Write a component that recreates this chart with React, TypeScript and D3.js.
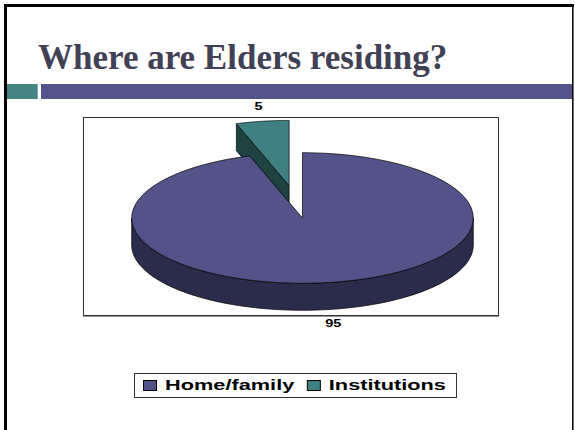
import React from 'react';
import * as d3 from 'd3';

const categories = ['Home/family', 'Institutions'];
const values = [95, 5];
const topColors = ['#53538a', '#3f8080'];
const sideColors = ['#2b2b4b', '#1f4242'];
const explodeFactors = [0, 0.5];
const titleText = 'Where are Elders residing?';

const W = 575;
const H = 430;
const cx = 302.5;
const cy = 218;
const rx = 170.8;
const ry = 65.3;
const depth = 27;
const textScale = 1.45;
const labelFont = '"Liberation Sans", Arial, sans-serif';

function measure(text: string, font: string): number {
  const c = document.createElement('canvas');
  const ctx = c.getContext('2d');
  if (!ctx) return text.length * 8;
  ctx.font = font;
  return ctx.measureText(text).width;
}

export default function App() {
  const arcs = d3.pie<number>().sort(null).startAngle(0).endAngle(2 * Math.PI)(values);
  const line = d3.line<[number, number]>();

  const pt = (a: number, ox: number, oy: number, k = 1, dz = 0): [number, number] => [
    cx + ox + rx * k * Math.sin(a),
    cy + oy - ry * k * Math.cos(a) + dz,
  ];

  const slices = arcs.map((a, i) => {
    const mid = (a.startAngle + a.endAngle) / 2;
    const k = explodeFactors[i];
    const ox = k * rx * Math.sin(mid);
    const oy = -k * ry * Math.cos(mid);
    return { a, i, mid, ox, oy };
  });
  const order = [...slices].sort((p, q) => Math.cos(q.mid) - Math.cos(p.mid));

  const arcPts = (s: number, e: number, ox: number, oy: number, dz = 0) => {
    const n = 80;
    return d3.range(n + 1).map((j) => pt(s + ((e - s) * j) / n, ox, oy, 1, dz));
  };

  const strokeProps = { stroke: '#000', strokeWidth: 0.7, strokeLinejoin: 'round' as const };

  const pieEls: React.ReactNode[] = [];
  order.forEach(({ a, i, ox, oy }) => {
    const a1 = a.startAngle;
    const a2 = a.endAngle;
    const c0: [number, number] = [cx + ox, cy + oy];
    const c1: [number, number] = [cx + ox, cy + oy + depth];
    // radial faces
    if (Math.sin(a1) < -1e-6) {
      const o = pt(a1, ox, oy);
      const ob = pt(a1, ox, oy, 1, depth);
      pieEls.push(<path key={`rs${i}`} d={line([c0, o, ob, c1])! + 'Z'} fill={sideColors[i]} {...strokeProps} />);
    }
    if (Math.sin(a2) > 1e-6) {
      const o = pt(a2, ox, oy);
      const ob = pt(a2, ox, oy, 1, depth);
      pieEls.push(<path key={`re${i}`} d={line([c0, o, ob, c1])! + 'Z'} fill={sideColors[i]} {...strokeProps} />);
    }
    // outer wall (front half only)
    const s = Math.max(a1, Math.PI / 2);
    const e = Math.min(a2, (3 * Math.PI) / 2);
    if (s < e) {
      const topP = arcPts(s, e, ox, oy);
      const botP = arcPts(s, e, ox, oy, depth).reverse();
      pieEls.push(<path key={`w${i}`} d={line([...topP, ...botP])! + 'Z'} fill={sideColors[i]} {...strokeProps} />);
    }
    // top face
    const tp = [c0, ...arcPts(a1, a2, ox, oy)];
    pieEls.push(<path key={`t${i}`} d={line(tp)! + 'Z'} fill={topColors[i]} {...strokeProps} />);
  });

  const labels = slices.map(({ a, i, mid, ox, oy }) => {
    const back = Math.cos(mid) > 0;
    const p = pt(mid, ox, oy, 1.15, back ? 0 : depth);
    const y = p[1] + (back ? -4.5 : 4.5);
    return (
      <text
        key={`l${i}`}
        transform={`translate(${p[0]},${y}) scale(${textScale},1)`}
        textAnchor="middle"
        dominantBaseline="central"
        fontFamily={labelFont}
        fontWeight="bold"
        fontSize={10}
        fill="#000"
      >
        {String(a.data)}
      </text>
    );
  });

  // legend layout
  const legFontSize = 15;
  const legFont = `bold ${legFontSize}px "Liberation Sans", Arial, sans-serif`;
  const legX = 134;
  const legY = 373;
  const legH = 24;
  const padL = 9;
  const markW = 13;
  const markH = 10;
  const markToText = 22;
  const itemGap = 12.5;
  let cursor = legX + padL;
  const legItems = categories.map((c, i) => {
    const tw = measure(c, legFont) * textScale;
    const x = cursor;
    cursor += markToText + tw + itemGap;
    return { c, i, x, tw };
  });
  const legW = cursor - itemGap + 10 - legX;

  return (
    <svg
      width={W}
      height={H}
      style={{ position: 'fixed', left: 0, top: 0, background: '#fff' }}
      xmlns="http://www.w3.org/2000/svg"
    >
      <rect x={0} y={0} width={W} height={H} fill="#fff" />
      {/* slide frame */}
      <rect x={4} y={4} width={570} height={3} fill="#000" />
      <rect x={4} y={4} width={3} height={H} fill="#000" />
      <rect x={572} y={4} width={1.6} height={H} fill="#111" />

      {/* title */}
      <text
        x={38}
        y={69}
        fontFamily='"Liberation Serif", "Times New Roman", serif'
        fontWeight="bold"
        fontSize={35}
        fill="#414156"
      >
        {titleText}
      </text>

      {/* header bar */}
      <rect x={7} y={84} width={30.7} height={15} fill="#468484" />
      <rect x={41} y={84} width={531} height={15} fill="#54548a" />

      {/* plot area */}
      <rect x={83.5} y={117.5} width={415} height={198} fill="#fff" stroke="#333" strokeWidth={1} />
      <line x1={83} y1={316.5} x2={499} y2={316.5} stroke="#999" strokeWidth={1} />

      {pieEls}
      {labels}

      {/* legend */}
      <rect x={legX + 0.5} y={legY + 0.5} width={legW} height={legH} fill="#fff" stroke="#333" strokeWidth={1} />
      {legItems.map(({ c, i, x }) => (
        <g key={`lg${i}`}>
          <rect x={x + 0.5} y={380.5} width={markW} height={markH} fill={topColors[i]} stroke="#000" strokeWidth={1} />
          <text
            transform={`translate(${x + markToText},389.5) scale(${textScale},1)`}
            fontFamily={labelFont}
            fontWeight="bold"
            fontSize={legFontSize}
            fill="#000"
          >
            {c}
          </text>
        </g>
      ))}
    </svg>
  );
}
